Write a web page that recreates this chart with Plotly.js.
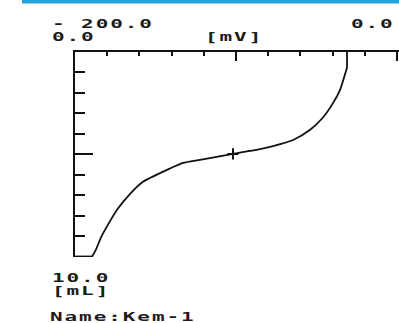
<!DOCTYPE html>
<html>
<head>
<meta charset="utf-8">
<script src="https://cdn.plot.ly/plotly-3.0.1.min.js"></script>
<style>
  html, body { margin: 0; padding: 0; background: #fff; }
  #chart { width: 399px; height: 323px; }
  .annotation-text { letter-spacing: 1.1px; }
</style>
</head>
<body>
<div id="chart"></div>
<script>
// Titration curve data: potential (mV) vs. titrant volume (mL)
const potentialMV = [-31.1, -31.2, -32.0, -33.5, -35.4, -39.8, -46.0, -54.0, -64.6, -77.0, -85.1, -101.9, -122.4, -132.9, -142.9, -157.8, -165.8, -173.9, -179.5, -183.9, -187.0, -189.4];
const volumeML    = [0.0, 0.8, 1.0, 1.4, 1.85, 2.5, 3.2, 3.8, 4.3, 4.6, 4.75, 4.98, 5.27, 5.42, 5.76, 6.34, 6.93, 7.71, 8.44, 9.07, 9.66, 10.0];
const endPointMV = [-101.9];
const endPointML = [4.98];
const xLabels = ["- 200.0", "0.0", "[mV]"];
const yLabels = ["0.0", "10.0", "[mL]"];
const sampleName = "Name:Kem-1";

const W = 399, H = 323;
const M = {l: 75, r: 0, t: 52, b: 66};
const pw = W - M.l - M.r, ph = H - M.t - M.b;
const px = x => (x - M.l) / pw;
const py = y => 1 - (y - M.t) / ph;

const txtFont = {family: "DejaVu Sans Mono", size: 12, color: "#1c1c1c", weight: "bold"};
function ann(text, x, y) {
  return {text: text, xref: "paper", yref: "paper", x: px(x), y: py(y),
          xanchor: "left", yanchor: "middle", align: "left", showarrow: false, font: txtFont};
}

const traces = [
  {x: potentialMV, y: volumeML, type: "scatter", mode: "lines",
   line: {color: "#111", width: 1.8, shape: "spline", smoothing: 0.6}, hoverinfo: "skip"},
  {x: endPointMV, y: endPointML, type: "scatter", mode: "markers",
   marker: {symbol: "cross-thin", size: 8, line: {color: "#111", width: 2}}, hoverinfo: "skip"}
];

const yMax = 10;
const layout = {
  width: W, height: H,
  margin: M,
  paper_bgcolor: "#fff", plot_bgcolor: "#fff",
  showlegend: false,
  xaxis: {
    range: [-200, 1.2], side: "top", showline: true, linecolor: "#111", linewidth: 2,
    showgrid: false, zeroline: false, showticklabels: false,
    ticks: "inside", tickmode: "linear", tick0: -200, dtick: 100, ticklen: 9, tickwidth: 2, tickcolor: "#111",
    minor: {ticks: "inside", tickmode: "linear", tick0: -200, dtick: 20, ticklen: 4, tickwidth: 2, tickcolor: "#111", showgrid: false}
  },
  yaxis: {
    range: [yMax + 0.02, 0], showline: true, linecolor: "#111", linewidth: 2,
    showgrid: false, zeroline: false, showticklabels: false,
    ticks: "inside", tickmode: "linear", tick0: 0, dtick: 5, ticklen: 18, tickwidth: 2, tickcolor: "#111",
    minor: {ticks: "inside", tickmode: "linear", tick0: 0, dtick: 1, ticklen: 10, tickwidth: 2, tickcolor: "#111", showgrid: false}
  },
  shapes: [
    {type: "rect", xref: "paper", yref: "paper", x0: px(22), x1: px(399), y0: py(3.5), y1: py(0),
     fillcolor: "#22a3dd", line: {width: 0}, layer: "above"},
    // long end tick at the bottom of the volume axis (10.0 mL)
    {type: "line", xref: "paper", yref: "y", x0: 0, x1: 18 / pw, y0: yMax, y1: yMax,
     line: {color: "#111", width: 2}, layer: "above"}
  ],
  annotations: [
    ann(xLabels[0], 50, 24.5),
    ann(yLabels[0], 50, 37),
    ann(xLabels[2], 203, 37),
    ann(xLabels[1], 349, 24.5),
    ann(yLabels[1], 50, 277.5),
    ann(yLabels[2], 50, 291),
    ann(sampleName, 48, 316.5)
  ]
};

Plotly.newPlot("chart", traces, layout, {staticPlot: true, displayModeBar: false}).then(() => {
  // widen the printer-style glyphs horizontally, keeping each text's left edge fixed
  document.querySelectorAll(".annotation-text").forEach(t => {
    const b = t.getBBox();
    const x0 = b.x;
    t.setAttribute("transform", `translate(${x0},0) scale(1.75,1) translate(${-x0},0)`);
  });
});
</script>
</body>
</html>
